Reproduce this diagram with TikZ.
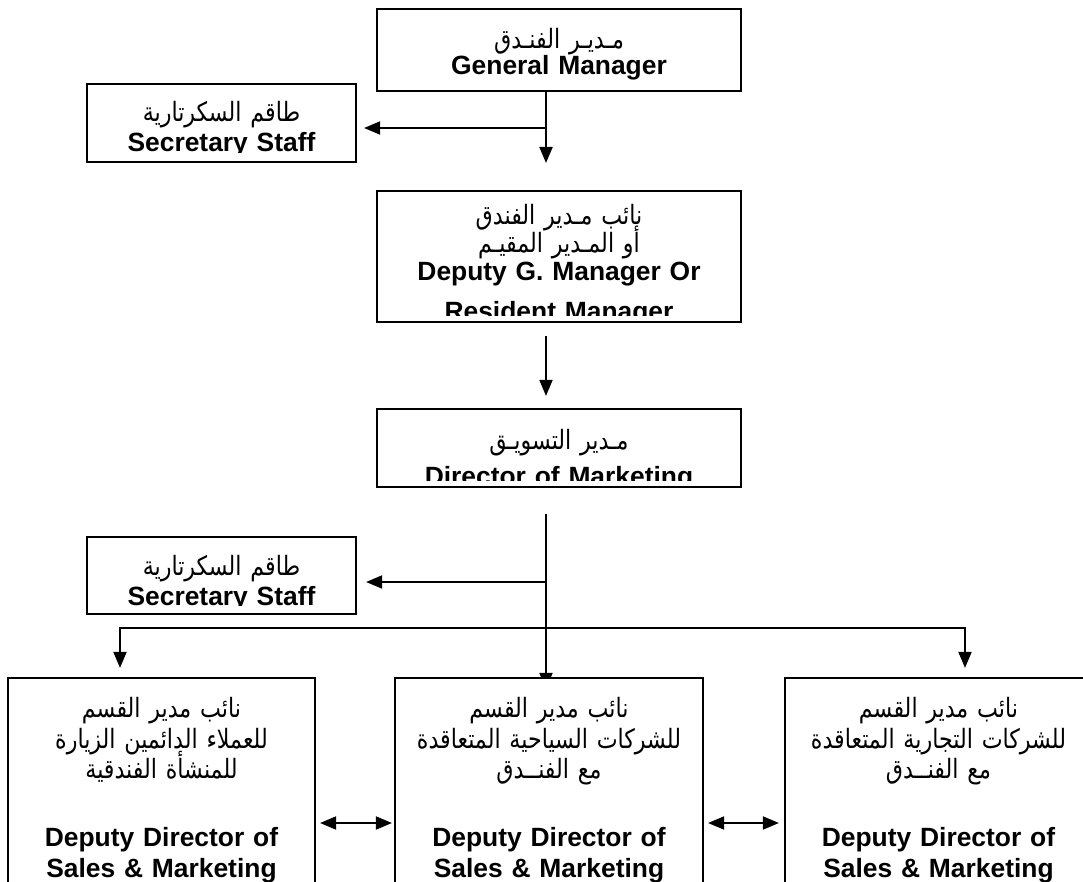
\documentclass[tikz,border=0pt]{standalone}
\usepackage{fontspec}
\usepackage{graphicx}
\setmainfont{Liberation Sans}
\newfontfamily\arabicfont[Script=Arabic, Scale=0.84]{DejaVu Sans}
\TeXXeTstate=1
\newcommand{\arbox}{\scalebox{1}[1.2]}
\usetikzlibrary{arrows.meta, fit, backgrounds}

\tikzset{
  box/.style={draw, line width=1.1pt, fill=white, inner sep=0pt},
  boxtext/.style={draw=none, fill=none, align=center, inner sep=0pt, anchor=base,
    font=\fontsize{13.2}{14}\selectfont, execute at begin node={\setlength{\lineskiplimit}{-20pt}}},
  lowtext/.style={boxtext, font=\fontsize{13.2}{15.5}\selectfont},
  arr/.style={line width=1pt, -{Triangle[length=8pt, width=6.5pt]}},
  dblarr/.style={line width=1pt, {Triangle[length=8pt, width=6.5pt]}-{Triangle[length=8pt, width=6.5pt]}},
}

\begin{document}
\begin{tikzpicture}[x=0.5pt, y=-0.5pt]
    \useasboundingbox (0,0) rectangle (1083,882);

    % General Manager
    \node [box, fit={(377,9) (741,91)}, path picture={
        \node [boxtext, yshift=-20pt] at (path picture bounding box.north)
            {\arbox{\arabicfont\beginR مـديـر الفنـدق\endR}\\[-1pt] \textbf{General Manager}};
    }] (gm) {};

    % Sekretariat oben
    \node [box, fit={(87,84) (356,162)}, path picture={
        \clip ([yshift=4.5pt]path picture bounding box.south west) rectangle (path picture bounding box.north east);
        \node [boxtext, yshift=-19pt] at (path picture bounding box.north)
            {\arbox{\arabicfont\beginR طاقم السكرتارية\endR}\\[1pt] \textbf{Secretary Staff}};
    }] (sec1) {};

    % Deputy / Resident Manager
    \node [box, fit={(377,191) (741,322)}, path picture={
        \clip ([yshift=3pt]path picture bounding box.south west) rectangle (path picture bounding box.north east);
        \node [boxtext, yshift=-17pt] at (path picture bounding box.north)
            {\arbox{\arabicfont\beginR نائب مـدير الفندق\endR}\\ \arbox{\arabicfont\beginR أو المـدير المقيـم\endR}\\
             \textbf{Deputy G. Manager Or}\\[6pt] \textbf{Resident Manager}};
    }] (dep) {};

    % Director of Marketing
    \node [box, fit={(377,409) (741,487)}, path picture={
        \clip ([yshift=3pt]path picture bounding box.south west) rectangle (path picture bounding box.north east);
        \node [boxtext, yshift=-20.5pt] at (path picture bounding box.north)
            {\arbox{\arabicfont\beginR مـدير التسويـق\endR}\\[4pt] \textbf{Director of Marketing}};
    }] (dir) {};

    % Sekretariat unten
    \node [box, fit={(87,537) (356,614)}, path picture={
        \clip ([yshift=4.5pt]path picture bounding box.south west) rectangle (path picture bounding box.north east);
        \node [boxtext, yshift=-19pt] at (path picture bounding box.north)
            {\arbox{\arabicfont\beginR طاقم السكرتارية\endR}\\[1pt] \textbf{Secretary Staff}};
    }] (sec2) {};

    % drei Deputy Directors
    \node [box, fit={(8,678) (315,900)}, path picture={
        \node [lowtext, yshift=-19.5pt] at (path picture bounding box.north)
            {\arbox{\arabicfont\beginR نائب مدير القسم\endR}\\ \arbox{\arabicfont\beginR للعملاء الدائمين الزيارة\endR}\\
             \arbox{\arabicfont\beginR للمنشأة الفندقية\endR}\\[18.5pt]
             \textbf{Deputy Director of}\\ \textbf{Sales \& Marketing}};
    }] (left) {};
    \node [box, fit={(395,678) (703,900)}, path picture={
        \node [lowtext, yshift=-19.5pt] at (path picture bounding box.north)
            {\arbox{\arabicfont\beginR نائب مدير القسم\endR}\\ \arbox{\arabicfont\beginR للشركات السياحية المتعاقدة\endR}\\
             \arbox{\arabicfont\beginR مع الفنــدق\endR}\\[18.5pt]
             \textbf{Deputy Director of}\\ \textbf{Sales \& Marketing}};
    }] (mid) {};
    \node [box, fit={(785,678) (1092,900)}, path picture={
        \node [lowtext, yshift=-19.5pt] at (path picture bounding box.north)
            {\arbox{\arabicfont\beginR نائب مدير القسم\endR}\\ \arbox{\arabicfont\beginR للشركات التجارية المتعاقدة\endR}\\
             \arbox{\arabicfont\beginR مع الفنــدق\endR}\\[18.5pt]
             \textbf{Deputy Director of}\\ \textbf{Sales \& Marketing}};
    }] (right) {};

    % Verbindungen
    \coordinate (j1) at (546,128);
    \coordinate (t1) at (546,163);
    \coordinate (j2) at (546,582);
    \coordinate (j3) at (546,628);
    \coordinate (bl) at (120,628);
    \coordinate (br) at (965,628);
    \coordinate (lvl) at (0,823);
    \begin{scope}[on background layer]
        \draw [arr] (gm.south -| j1) -- (t1);
        \draw [arr, shorten >=3.5pt] (j1) -- (sec1.east |- j1);
        \draw [arr, shorten <=6.5pt, shorten >=6pt] (dep.south -| j1) -- (dir.north -| j1);
        \draw [arr, shorten <=13pt, shorten >=-6pt] (dir.south -| j2) -- (mid.north -| j2);
        \draw [arr, shorten >=4.5pt] (j2) -- (sec2.east |- j2);
        \draw [arr, shorten >=4.5pt] (j3) -- (bl) -- (left.north -| bl);
        \draw [arr, shorten >=4.5pt] (j3) -- (br) -- (right.north -| br);
    \end{scope}
    \draw [dblarr, shorten <=2pt, shorten >=1pt] (left.east |- lvl) -- (mid.west |- lvl);
    \draw [dblarr, shorten <=2pt, shorten >=2.5pt] (mid.east |- lvl) -- (right.west |- lvl);
\end{tikzpicture}
\end{document}
